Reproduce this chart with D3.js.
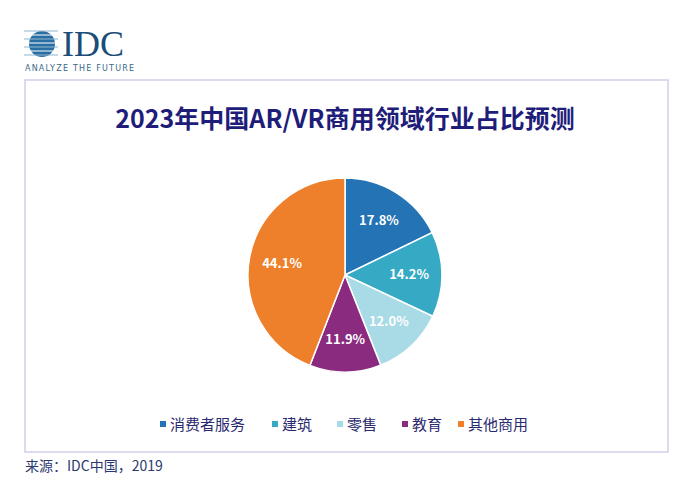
<!DOCTYPE html>
<html><head><meta charset="utf-8">
<script src="https://cdn.jsdelivr.net/npm/d3@7"></script>
<style>body{margin:0;background:#fff;font-family:"Noto Sans CJK SC","Noto Sans",sans-serif;}</style>
</head><body><div id="chart"></div>
<script>
const categories = ["消费者服务", "建筑", "零售", "教育", "其他商用"];
const shares = [17.8, 14.2, 12.0, 11.9, 44.1];
const colors = ["#2373b5", "#36a9c4", "#a9dbe6", "#8a2b7f", "#ee7f2b"];

const svg = d3.select("#chart").append("svg").attr("width", 694).attr("height", 500);

// IDC logo
const logo = svg.append("g").attr("transform", "translate(24,28)");
logo.append("circle").attr("cx", 18).attr("cy", 16).attr("r", 13).attr("fill", "#2a6fa3");
d3.range(8).forEach(i => {
  logo.append("line").attr("x1", 0).attr("x2", 34).attr("y1", 3 + i * 4).attr("y2", 3 + i * 4)
    .attr("stroke", i % 2 ? "#fff" : "#8fb5d0").attr("stroke-width", 1.2);
});
svg.append("text").attr("x", 62).attr("y", 56).text("IDC")
  .attr("font-family", "Liberation Serif").attr("font-size", 36).attr("fill", "#1a4d78");
svg.append("text").attr("x", 25).attr("y", 71).text("ANALYZE THE FUTURE")
  .attr("font-family", "DejaVu Sans").attr("font-size", 8).attr("fill", "#3a6a8a").attr("letter-spacing", 1.2);

// frame
svg.append("rect").attr("x", 25).attr("y", 80).attr("width", 643).attr("height", 372)
  .attr("fill", "#fff").attr("stroke", "#cfd0ea").attr("stroke-width", 1.5);

svg.append("text").attr("x", 345).attr("y", 128).attr("text-anchor", "middle")
  .attr("font-size", 25).attr("font-weight", "bold").attr("fill", "#1f1d7a")
  .text("2023年中国AR/VR商用领域行业占比预测");

const cx = 345, cy = 275, r = 97;
const pie = d3.pie().sort(null).value(d => d)(shares);
const arc = d3.arc().innerRadius(0).outerRadius(r);
const labelArc = d3.arc().innerRadius(r * 0.66).outerRadius(r * 0.66);
const g = svg.append("g").attr("transform", `translate(${cx},${cy})`);
g.selectAll("path").data(pie).join("path")
  .attr("d", arc).attr("fill", (d, i) => colors[i]).attr("stroke", "#fff").attr("stroke-width", 1.5);
g.selectAll("text").data(pie).join("text")
  .attr("transform", d => `translate(${labelArc.centroid(d)})`)
  .attr("text-anchor", "middle").attr("dy", "0.35em")
  .attr("font-size", 13).attr("font-weight", "bold").attr("fill", "#fff")
  .text(d => d.data.toFixed(1) + "%");

// legend
const legendX = d3.scaleOrdinal().domain(categories).range([160, 272, 337, 402, 458]);
const lg = svg.append("g").selectAll("g").data(categories).join("g")
  .attr("transform", d => `translate(${legendX(d)},425)`);
lg.append("rect").attr("x", 0).attr("y", -4).attr("width", 6).attr("height", 6).attr("fill", (d, i) => colors[i]);
lg.append("text").attr("x", 10).attr("y", 0).attr("dy", "0.35em").attr("font-size", 15).attr("fill", "#2b2a6e").text(d => d);

svg.append("text").attr("x", 25).attr("y", 471).attr("font-size", 14).attr("fill", "#2b3a6e").text("来源：IDC中国，2019");
</script></body></html>
